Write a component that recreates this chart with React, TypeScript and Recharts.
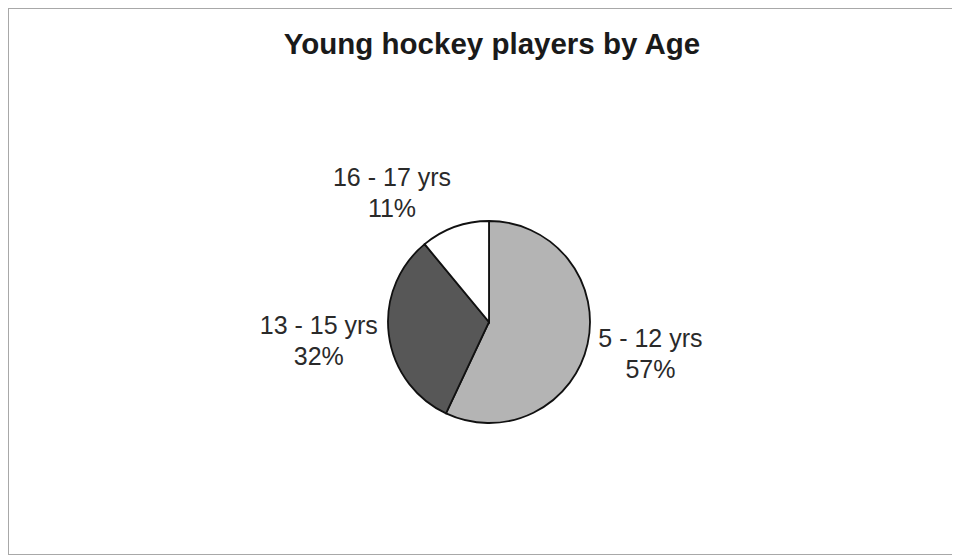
import { PieChart, Pie, Cell } from "recharts";

const ageGroups = ["5 - 12 yrs", "13 - 15 yrs", "16 - 17 yrs"];
const shares = [57, 32, 11];
const sliceColors = ["#b4b4b4", "#575757", "#ffffff"];

const data = ageGroups.map((name, i) => ({ name, value: shares[i] }));

const FONT = "'Liberation Sans', Arial, sans-serif";
const LABEL_SIZE = 25;
const LINE_GAP = 31;
const RADIAN = Math.PI / 180;

let measureCtx: CanvasRenderingContext2D | null = null;
function textWidth(s: string) {
  if (!measureCtx) measureCtx = document.createElement("canvas").getContext("2d");
  if (!measureCtx) return s.length * LABEL_SIZE * 0.5;
  measureCtx.font = `${LABEL_SIZE}px ${FONT}`;
  return measureCtx.measureText(s).width;
}

// outside-end labels, box pushed away from the pie like Excel does it
function renderLabel(props: any) {
  const { cx, cy, midAngle, outerRadius, name, value } = props;
  const cos = Math.cos(-midAngle * RADIAN);
  const sy = Math.sin(-midAngle * RADIAN);
  const line1 = String(name);
  const line2 = `${value}%`;
  const w = Math.max(textWidth(line1), textWidth(line2));
  const h = 54;
  const R = outerRadius + 11;
  const x = cx + R * cos + Math.sign(cos) * (w / 2);
  const y = cy + R * sy + sy * (h / 2);
  const b1 = y - 5;
  return (
    <text
      x={x}
      y={b1}
      textAnchor="middle"
      fill="#2a2a2a"
      fontFamily={FONT}
      fontSize={LABEL_SIZE}
    >
      <tspan x={x} y={b1}>{line1}</tspan>
      <tspan x={x} y={b1 + LINE_GAP}>{line2}</tspan>
    </text>
  );
}

export default function App() {
  return (
    <div
      style={{
        position: "relative",
        width: 950,
        height: 545,
        border: "1px solid #a8a8a8",
        background: "#fff",
      }}
    >
      <div
        style={{
          position: "absolute",
          top: 20,
          left: 8,
          width: 950,
          textAlign: "center",
          fontFamily: FONT,
          fontWeight: "bold",
          fontSize: 29.5,
          lineHeight: "29px",
          color: "#1a1a1a",
        }}
      >
        Young hockey players by Age
      </div>
      <div style={{ position: "absolute", top: 0, left: 0 }}>
        <PieChart width={950} height={545} margin={{ top: 0, right: 0, bottom: 0, left: 0 }}>
          <Pie
            data={data}
            dataKey="value"
            nameKey="name"
            cx={480}
            cy={313}
            outerRadius={101}
            startAngle={90}
            endAngle={-270}
            stroke="#111"
            strokeWidth={1.8}
            label={renderLabel}
            labelLine={false}
            isAnimationActive={false}
          >
            {data.map((d, i) => (
              <Cell key={d.name} fill={sliceColors[i]} />
            ))}
          </Pie>
        </PieChart>
      </div>
    </div>
  );
}
